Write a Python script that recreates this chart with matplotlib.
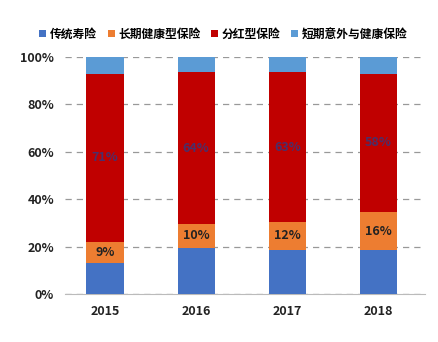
import numpy as np
import matplotlib.pyplot as plt

plt.rcParams['font.family'] = ['Noto Sans CJK SC', 'DejaVu Sans']

years = ["2015", "2016", "2017", "2018"]
traditional = [13.0, 19.5, 18.5, 18.5]
health_long = [9.0, 10.0, 12.0, 16.0]
dividend = [71.0, 64.0, 63.0, 58.5]
short_term = [7.0, 6.5, 6.5, 7.0]
health_labels = ["9%", "10%", "12%", "16%"]
dividend_labels = ["71%", "64%", "63%", "58%"]
series_names = ["传统寿险", "长期健康型保险", "分红型保险", "短期意外与健康保险"]
colors = ["#4472C4", "#ED7D31", "#C00000", "#5B9BD5"]

fig = plt.figure(figsize=(4.38, 3.42), dpi=100)
ax = fig.add_axes([65 / 438, 48 / 342, 360 / 438, 237 / 342])

x = np.arange(len(years))
w = 0.41
bottom = np.zeros(len(years))
bars = []
for vals, c, name in zip([traditional, health_long, dividend, short_term], colors, series_names):
    b = ax.bar(x, vals, w, bottom=bottom, color=c, label=name, zorder=3)
    bars.append((b, bottom.copy(), np.array(vals)))
    bottom += np.array(vals)

# segment labels
b, bot, vals = bars[1]
for i in range(len(years)):
    ax.text(x[i], bot[i] + vals[i] / 2, health_labels[i], ha="center", va="center",
            fontsize=9, fontweight="bold", color="#222222", zorder=4)
b, bot, vals = bars[2]
for i in range(len(years)):
    ax.text(x[i], bot[i] + vals[i] / 2, dividend_labels[i], ha="center", va="center",
            fontsize=9, fontweight="bold", color="#4A2F6A", zorder=4)

ax.set_ylim(0, 100)
ax.set_xlim(-0.44, 3.51)
ax.set_yticks(np.arange(0, 101, 20))
ax.set_yticklabels([f"{v}%" for v in range(0, 101, 20)], fontsize=9, fontweight="bold", color="#222222")
ax.set_xticks(x)
ax.set_xticklabels(years, fontsize=9, fontweight="bold", color="#222222")
ax.tick_params(length=0, pad=8)
ax.yaxis.grid(True, linestyle=(0, (5, 4)), color="#999999", linewidth=0.9, zorder=0)
for s in ["top", "right", "left"]:
    ax.spines[s].set_visible(False)
ax.spines["bottom"].set_color("#BBBBBB")

fig.legend(loc="center", bbox_to_anchor=(0.51, 0.900), ncol=4, frameon=False,
           handlelength=0.6, handleheight=0.6, handletextpad=0.3,
           columnspacing=0.9, prop={'weight': 'bold', 'size': 8.5})

fig.savefig("out.png", dpi=100)
